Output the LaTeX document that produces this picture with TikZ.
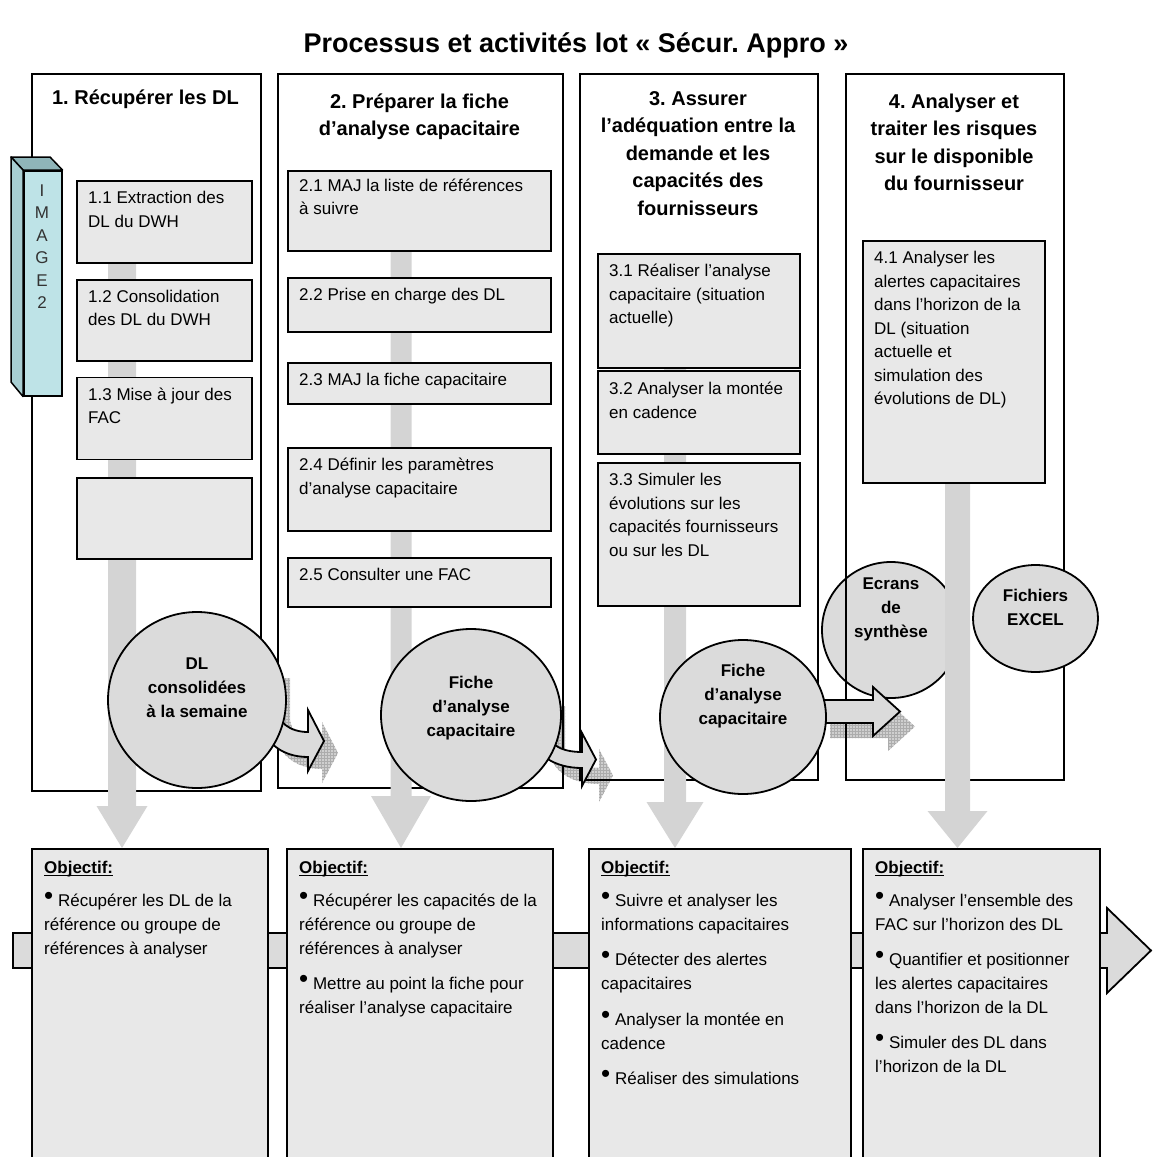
\documentclass[tikz,border=0pt]{standalone}
\usepackage{fontspec}
\setmainfont{Liberation Sans}
\usetikzlibrary{positioning,shapes.geometric,patterns}

\definecolor{fondcase}{gray}{0.91}
\definecolor{fondbulle}{gray}{0.86}
\definecolor{barregris}{gray}{0.83}
\definecolor{cyanface}{RGB}{190,227,231}
\definecolor{cyancote}{RGB}{168,206,210}
\definecolor{cyanhaut}{RGB}{143,181,185}
\definecolor{gristexte}{gray}{0.2}

\frenchspacing
\newcommand{\puce}{\raisebox{1.5pt}{\fontsize{26}{26}\selectfont\textbullet}}
\newcommand{\souligne}[1]{\leavevmode\setbox0\hbox{#1}\rlap{\rule[-2.8pt]{\wd0}{1.3pt}}\box0}

\begin{document}
\begin{tikzpicture}[
  x=1pt, y=-1pt,
  colonne/.style={draw, line width=1.8pt, anchor=north west, inner sep=0pt},
  etape/.style={draw, fill=fondcase, line width=1.8pt, anchor=north west, inner sep=0pt},
  txtetape/.style={anchor=base west, inner sep=0pt, font=\fontsize{17}{23.5}\selectfont},
  titrecol/.style={anchor=base, inner sep=0pt, font=\fontsize{20}{27.5}\selectfont\bfseries},
  bulle/.style={ellipse, draw, fill=fondbulle, line width=1.8pt, inner sep=0pt},
  txtbulle/.style={anchor=base, inner sep=0pt, font=\fontsize{17}{24}\selectfont\bfseries},
  objectif/.style={draw, fill=fondcase, line width=1.8pt, anchor=north west, inner sep=0pt},
  txtobj/.style={anchor=base west, inner sep=0pt, font=\fontsize{17}{24}\selectfont},
  barre/.style={fill=barregris},
  bloc/.style={draw, fill=fondbulle, line width=1.8pt, line join=miter},
  ombre/.style={fill=gray!38, postaction={pattern=grid, pattern color=gray!65}}
]
\useasboundingbox (0,0) rectangle (1152,1157);
\clip (0,0) rectangle (1152,1157);

% Title
\node[anchor=base, font=\fontsize{27}{31}\selectfont\bfseries] (titre) at (576,52) {Processus et activités lot « Sécur. Appro »};

% Output bubble lying under column 4
\node[bulle, minimum width=138pt, minimum height=136pt] (e4) at (891,630) {};

% Shadows of the block arrows
\fill[ombre, shift={(14,12)}] (276,666) -- (276,705) .. controls (276,722) and (290,732) .. (308,732) -- (308,710) -- (324,741) -- (308,771) -- (308,757) .. controls (280,757) and (258,740) .. (258,705) -- (258,666) -- cycle;
\fill[ombre, shift={(17,16)}] (548,690) -- (548,730) .. controls (548,745) and (562,752) .. (582,752) -- (582,733) -- (596,759.5) -- (582,786) -- (582,768) .. controls (555,768) and (532,755) .. (532,730) -- (532,690) -- cycle;
\fill[ombre, shift={(15,15)}] (815,700) -- (873,700) -- (873,687) -- (900,711.5) -- (873,736) -- (873,723) -- (815,723) -- cycle;

% Process columns
\node[colonne, minimum width=229pt, minimum height=717pt] (col1) at (31,73) {};
\node[colonne, minimum width=285pt, minimum height=714pt] (col2) at (277,73) {};
\node[colonne, minimum width=238pt, minimum height=706pt] (col3) at (579,73) {};
\node[colonne, minimum width=218pt, minimum height=706pt] (col4) at (845,73) {};

% Objectives band
\draw[bloc] (13,933) -- (1107,933) -- (1107,908) -- (1151,950.5) -- (1107,993) -- (1107,968) -- (13,968) -- cycle;
\node[objectif, minimum width=236pt, minimum height=340pt] (ob1) at (31,848) {};
\node[objectif, minimum width=266pt, minimum height=340pt] (ob2) at (286,848) {};
\node[objectif, minimum width=262pt, minimum height=340pt] (ob3) at (588,848) {};
\node[objectif, minimum width=237pt, minimum height=340pt] (ob4) at (862,848) {};

% Grey down arrows
\coordinate (h1) at (122,180);
\coordinate (h2) at (401,170);
\coordinate (h3) at (675,253);
\coordinate (h4) at (957.5,482);
\fill[barre] (h1) ++(-14,0) -- ++(0,626) -- ++(-11.5,0) -- (h1 |- ob1.north) -- ++(25.5,-42) -- ++(-11.5,0) -- ++(0,-626) -- cycle;
\fill[barre] (h2) ++(-10.5,0) -- ++(0,626) -- ++(-19.5,0) -- (h2 |- ob2.north) -- ++(30,-52) -- ++(-19.5,0) -- ++(0,-626) -- cycle;
\fill[barre] (h3) ++(-11,0) -- ++(0,549) -- ++(-17.5,0) -- (h3 |- ob3.north) -- ++(28.5,-46) -- ++(-17.5,0) -- ++(0,-549) -- cycle;
\fill[barre] (h4) ++(-12.5,0) -- ++(0,329) -- ++(-17.5,0) -- (h4 |- ob4.north) -- ++(30,-37) -- ++(-17.5,0) -- ++(0,-329) -- cycle;

% IMAGE 2 block
\node[draw, fill=cyanface, line width=1.5pt, anchor=north west, minimum width=38pt, minimum height=225pt, inner sep=0pt] (img) at (23,170) {};
\draw[fill=cyanhaut, line width=1.5pt, line join=round] (img.north west) -- ++(-12,-13) -- ++(39,0) -- (img.north east) -- cycle;
\draw[fill=cyancote, line width=1.5pt, line join=round] (img.north west) -- ++(-12,-13) -- ++(0,225) -- (img.south west) -- cycle;
\node[anchor=base, inner sep=0pt, font=\fontsize{17}{22.5}\selectfont, text=gristexte] (imgtxt) at (42,196) {\parbox[t]{20pt}{\centering I\\M\\A\\G\\E\\2}};

% Steps of column 1
\node[etape, minimum width=175pt, minimum height=82pt] (s11) at (76,180) {};
\node[etape, minimum width=175pt, minimum height=81pt, below=15pt of s11] (s12) {};
\node[etape, minimum width=175pt, minimum height=82pt, below=15pt of s12] (s13) {};
\node[etape, minimum width=175pt, minimum height=81pt, below=17pt of s13] (s14) {};
% Steps of column 2
\node[etape, minimum width=263pt, minimum height=80pt] (s21) at (287,170) {};
\node[etape, minimum width=263pt, minimum height=54pt] (s22) at (287,277) {};
\node[etape, minimum width=263pt, minimum height=41pt] (s23) at (287,362) {};
\node[etape, minimum width=263pt, minimum height=83pt] (s24) at (287,447) {};
\node[etape, minimum width=263pt, minimum height=49pt] (s25) at (287,557) {};
% Steps of column 3
\node[etape, minimum width=202pt, minimum height=114pt] (s31) at (597,253) {};
\node[etape, minimum width=202pt, minimum height=83pt] (s32) at (597,370) {};
\node[etape, minimum width=202pt, minimum height=143pt] (s33) at (597,462) {};
% Step of column 4
\node[etape, minimum width=182pt, minimum height=242pt] (s41) at (862,240) {};

% Block arrows between columns
\draw[bloc] (276,666) -- (276,705) .. controls (276,722) and (290,732) .. (308,732) -- (308,710) -- (324,741) -- (308,771) -- (308,757) .. controls (280,757) and (258,740) .. (258,705) -- (258,666) -- cycle;
\draw[bloc] (548,690) -- (548,730) .. controls (548,745) and (562,752) .. (582,752) -- (582,733) -- (596,759.5) -- (582,786) -- (582,768) .. controls (555,768) and (532,755) .. (532,730) -- (532,690) -- cycle;
\draw[bloc] (815,700) -- (873,700) -- (873,687) -- (900,711.5) -- (873,736) -- (873,723) -- (815,723) -- cycle;

% Output bubbles
\node[bulle, minimum width=178pt, minimum height=176pt] (e1) at (197,700) {};
\node[bulle, minimum width=180pt, minimum height=172pt] (e2) at (471,715) {};
\node[bulle, minimum width=166pt, minimum height=154pt] (e3) at (743,717) {};
\node[bulle, minimum width=125pt, minimum height=107pt] (e5) at (1035.5,618.5) {};

% Column headings
\node[titrecol] (tc1) at (145.5,104) {\parbox[t]{250pt}{\centering 1. Récupérer les DL}};
\node[titrecol] (tc2) at (419.5,108) {\parbox[t]{250pt}{\centering 2. Préparer la fiche\\d’analyse capacitaire}};
\node[titrecol] (tc3) at (698,105) {\parbox[t]{250pt}{\centering 3. Assurer\\l’adéquation entre la\\demande et les\\capacités des\\fournisseurs}};
\node[titrecol] (tc4) at (954,108) {\parbox[t]{250pt}{\centering 4. Analyser et\\traiter les risques\\sur le disponible\\du fournisseur}};

% Step texts
\node[txtetape] (t11) at ([shift={(12,23.5)}]s11.north west) {\parbox[t]{250pt}{1.1 Extraction des\\DL du DWH}};
\node[txtetape] (t12) at ([shift={(12,23.5)}]s12.north west) {\parbox[t]{250pt}{1.2 Consolidation\\des DL du DWH}};
\node[txtetape] (t13) at ([shift={(12,23.5)}]s13.north west) {\parbox[t]{250pt}{1.3 Mise à jour des\\FAC}};
\node[txtetape] (t21) at ([shift={(12,21)}]s21.north west) {\parbox[t]{260pt}{2.1 MAJ la liste de références\\à suivre}};
\node[txtetape] (t22) at ([shift={(12,23.5)}]s22.north west) {\parbox[t]{260pt}{2.2 Prise en charge des DL}};
\node[txtetape] (t23) at ([shift={(12,23.5)}]s23.north west) {\parbox[t]{260pt}{2.3 MAJ la fiche capacitaire}};
\node[txtetape] (t24) at ([shift={(12,23.5)}]s24.north west) {\parbox[t]{260pt}{2.4 Définir les paramètres\\d’analyse capacitaire}};
\node[txtetape] (t25) at ([shift={(12,23.5)}]s25.north west) {\parbox[t]{260pt}{2.5 Consulter une FAC}};
\node[txtetape] (t31) at ([shift={(12,23.5)}]s31.north west) {\parbox[t]{250pt}{3.1 Réaliser l’analyse\\capacitaire (situation\\actuelle)}};
\node[txtetape] (t32) at ([shift={(12,24.5)}]s32.north west) {\parbox[t]{250pt}{3.2 Analyser la montée\\en cadence}};
\node[txtetape] (t33) at ([shift={(12,23.5)}]s33.north west) {\parbox[t]{250pt}{3.3 Simuler les\\évolutions sur les\\capacités fournisseurs\\ou sur les DL}};
\node[txtetape] (t41) at ([shift={(12,23.5)}]s41.north west) {\parbox[t]{250pt}{4.1 Analyser les\\alertes capacitaires\\dans l’horizon de la\\DL (situation\\actuelle et\\simulation des\\évolutions de DL)}};

% Bubble texts
\node[txtbulle] (te1) at (197,669) {\parbox[t]{160pt}{\centering DL\\consolidées\\à la semaine}};
\node[txtbulle] (te2) at (471,688) {\parbox[t]{160pt}{\centering Fiche\\d’analyse\\capacitaire}};
\node[txtbulle] (te3) at (743,676) {\parbox[t]{160pt}{\centering Fiche\\d’analyse\\capacitaire}};
\node[txtbulle] (te4) at (891,589) {\parbox[t]{120pt}{\centering Ecrans\\de\\synthèse}};
\node[txtbulle] (te5) at (1035.5,601) {\parbox[t]{120pt}{\centering Fichiers\\EXCEL}};

% Objective texts
\node[txtobj] (to1) at ([shift={(13,25)}]ob1.north west) {\parbox[t]{260pt}{\souligne{\textbf{Objectif:}}\\[9pt]
  \puce{} Récupérer les DL de la\\référence ou groupe de\\références à analyser}};
\node[txtobj] (to2) at ([shift={(13,25)}]ob2.north west) {\parbox[t]{260pt}{\souligne{\textbf{Objectif:}}\\[9pt]
  \puce{} Récupérer les capacités de la\\référence ou groupe de\\références à analyser\\[11pt]
  \puce{} Mettre au point la fiche pour\\réaliser l’analyse capacitaire}};
\node[txtobj] (to3) at ([shift={(13,25)}]ob3.north west) {\parbox[t]{260pt}{\souligne{\textbf{Objectif:}}\\[9pt]
  \puce{} Suivre et analyser les\\informations capacitaires\\[11pt]
  \puce{} Détecter des alertes\\capacitaires\\[12pt]
  \puce{} Analyser la montée en\\cadence\\[11pt]
  \puce{} Réaliser des simulations}};
\node[txtobj] (to4) at ([shift={(13,25)}]ob4.north west) {\parbox[t]{260pt}{\souligne{\textbf{Objectif:}}\\[9pt]
  \puce{} Analyser l’ensemble des\\FAC sur l’horizon des DL\\[11pt]
  \puce{} Quantifier et positionner\\les alertes capacitaires\\dans l’horizon de la DL\\[11pt]
  \puce{} Simuler des DL dans\\l’horizon de la DL}};
\end{tikzpicture}
\end{document}
